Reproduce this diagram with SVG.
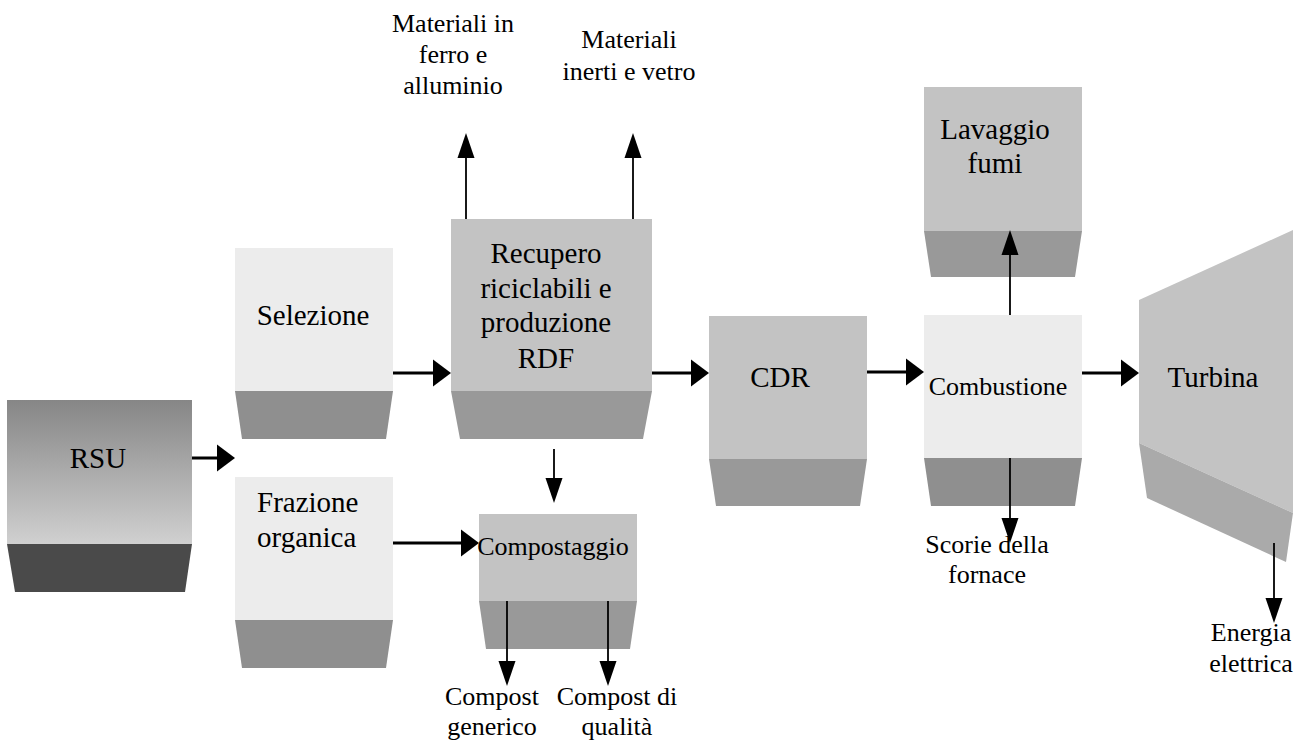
<svg xmlns="http://www.w3.org/2000/svg" width="1309" height="742" viewBox="0 0 1309 742">
<style>
text{font-family:"Liberation Serif","Times New Roman",serif;fill:#000;}
.big{font-size:29px;}
.sm{font-size:26px;}
.c{text-anchor:middle;}
.light{fill:#ececec;}
.mid{fill:#c3c3c3;}
.bandL{fill:#8f8f8f;}
.bandM{fill:#999999;}
.h{stroke:#000;stroke-width:3;fill:none;marker-end:url(#ah);}
.v{stroke:#000;stroke-width:1.8;fill:none;marker-end:url(#av);}
</style>
<defs>
<linearGradient id="rsuG" x1="0" y1="0" x2="0" y2="1">
<stop offset="0" stop-color="#868686"/>
<stop offset="1" stop-color="#d0d0d0"/>
</linearGradient>
<marker id="ah" markerUnits="userSpaceOnUse" markerWidth="18" markerHeight="27" refX="13" refY="13.5" orient="auto" overflow="visible"><path d="M0,0 L18,13.5 L0,27 z" fill="#000"/></marker>
<marker id="av" markerUnits="userSpaceOnUse" markerWidth="25" markerHeight="17" refX="20" refY="8.5" orient="auto" overflow="visible"><path d="M0,0 L25,8.5 L0,17 z" fill="#000"/></marker>
</defs>
<rect width="1309" height="742" fill="#fff"/>

<g id="rsu">
<rect x="7" y="400" width="185" height="144" fill="url(#rsuG)"/>
<polygon points="7,544 192,544 185,592 15,592" fill="#4a4a4a"/>
<text class="big c" x="98" y="468">RSU</text>
</g>

<g id="selezione">
<rect class="light" x="235" y="248" width="158" height="143"/>
<polygon class="bandL" points="235,391 393,391 386,439 242,439"/>
<text class="big c" x="313" y="325">Selezione</text>
</g>

<g id="frazione">
<rect class="light" x="235" y="477" width="158" height="143"/>
<polygon class="bandL" points="235,620 393,620 386,668 242,668"/>
<text class="big" x="257" y="512">Frazione</text>
<text class="big" x="257" y="547">organica</text>
</g>

<g id="recupero">
<rect class="mid" x="451" y="219" width="201" height="172"/>
<polygon class="bandM" points="451,391 652,391 643,439 460,439"/>
<text class="big c" x="546" y="263">Recupero</text>
<text class="big c" x="546" y="298">riciclabili e</text>
<text class="big c" x="546" y="332">produzione</text>
<text class="big c" x="546" y="368">RDF</text>
</g>

<g id="compostaggio">
<rect class="mid" x="479" y="514" width="158" height="87"/>
<polygon class="bandM" points="479,601 637,601 630,649 486,649"/>
<text class="sm c" x="553" y="555">Compostaggio</text>
</g>

<g id="cdr">
<rect class="mid" x="709" y="316" width="158" height="143"/>
<polygon class="bandM" points="709,459 867,459 860,506 716,506"/>
<text class="big c" x="780" y="387">CDR</text>
</g>

<g id="lavaggio">
<rect class="mid" x="924" y="87" width="158" height="144"/>
<polygon class="bandM" points="924,231 1082,231 1075,277 931,277"/>
<text class="big c" x="995" y="139">Lavaggio</text>
<text class="big c" x="995" y="173">fumi</text>
</g>

<g id="combustione">
<rect class="light" x="924" y="315" width="158" height="143"/>
<polygon class="bandL" points="924,458 1082,458 1075,506 931,506"/>
<text class="sm c" x="998" y="395">Combustione</text>
</g>

<g id="turbina">
<polygon class="mid" points="1139,300 1293,230 1293,513 1139,443"/>
<polygon fill="#aaaaaa" points="1139,443 1293,513 1286,562 1147,498"/>
<text class="big c" x="1213" y="387">Turbina</text>
</g>

<g id="labels">
<text class="sm c" x="453" y="32">Materiali in</text>
<text class="sm c" x="453" y="63">ferro e</text>
<text class="sm c" x="453" y="94">alluminio</text>
<text class="sm c" x="629" y="48">Materiali</text>
<text class="sm c" x="629" y="80">inerti e vetro</text>
<text class="sm c" x="492" y="705">Compost</text>
<text class="sm c" x="492" y="735">generico</text>
<text class="sm c" x="617" y="705">Compost di</text>
<text class="sm c" x="617" y="735">qualità</text>
<text class="sm c" x="987" y="553">Scorie della</text>
<text class="sm c" x="987" y="583">fornace</text>
<text class="sm c" x="1251" y="641">Energia</text>
<text class="sm c" x="1251" y="672">elettrica</text>
</g>

<g id="connectors">
<line class="h" x1="192" y1="458" x2="230" y2="458"/>
<line class="h" x1="393" y1="373" x2="446" y2="373"/>
<line class="h" x1="652" y1="373" x2="704" y2="373"/>
<line class="h" x1="867" y1="372" x2="919" y2="372"/>
<line class="h" x1="1082" y1="373" x2="1134" y2="373"/>
<line class="h" x1="393" y1="543" x2="474" y2="543"/>
<line class="v" x1="466" y1="219" x2="466" y2="138"/>
<line class="v" x1="633" y1="219" x2="633" y2="138"/>
<line class="v" x1="554" y1="449" x2="554" y2="498"/>
<line class="v" x1="507" y1="601" x2="507" y2="681"/>
<line class="v" x1="608" y1="601" x2="608" y2="681"/>
<line class="v" x1="1010" y1="315" x2="1010" y2="235"/>
<line class="v" x1="1010" y1="458" x2="1010" y2="538"/>
<line class="v" x1="1274" y1="543" x2="1274" y2="618"/>
</g>
</svg>
